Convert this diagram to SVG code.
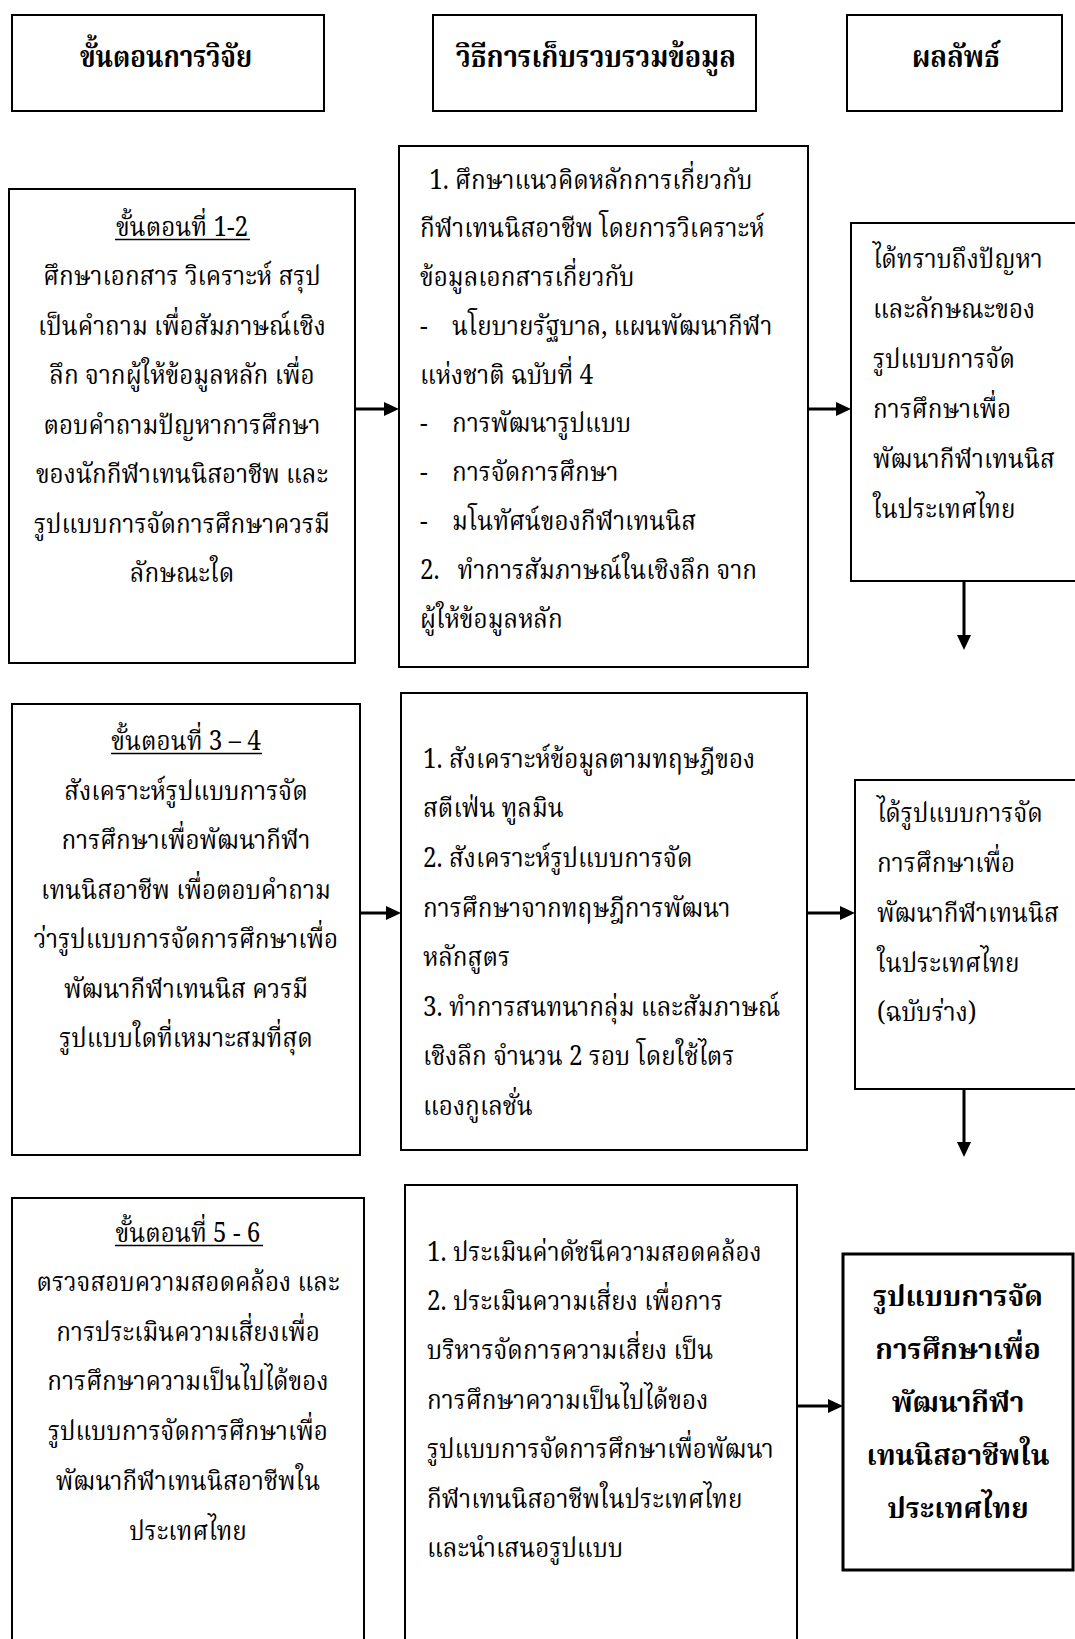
<svg xmlns="http://www.w3.org/2000/svg" width="1075" height="1639" viewBox="0 0 1075 1639">
<defs>
<style>
.box{fill:#fff;stroke:#000;stroke-width:2}
.bold-box{fill:#fff;stroke:#000;stroke-width:3}
.t{font-family:"Noto Serif Thai","Noto Sans Thai","Liberation Serif","Noto Sans",serif;font-size:26.5px;fill:#000}
.c{text-anchor:middle}
.h{font-family:"Noto Serif Thai","Noto Sans Thai","Liberation Serif",serif;font-size:31px;font-weight:bold;fill:#000;text-anchor:middle}
.r{font-family:"Noto Serif Thai","Noto Sans Thai","Liberation Serif",serif;font-size:28px;font-weight:bold;fill:#000;text-anchor:middle}
.u{stroke:#000;stroke-width:1.3}
.conn{stroke:#000;stroke-width:3;fill:none;marker-end:url(#ah)}
</style>
<marker id="ah" markerUnits="userSpaceOnUse" markerWidth="16" markerHeight="14" refX="5" refY="7" orient="auto">
<path d="M0,0 L15,7 L0,14 z" fill="#000"/>
</marker>
</defs>
<rect width="1075" height="1639" fill="#fff"/>

<g id="header-steps">
<rect class="box" x="12" y="15" width="312" height="96"/>
<text class="h" x="166" y="67" textLength="172" lengthAdjust="spacingAndGlyphs">ขั้นตอนการวิจัย</text>
</g>
<g id="header-methods">
<rect class="box" x="433" y="15" width="323" height="96"/>
<text class="h" x="596" y="67" textLength="280" lengthAdjust="spacingAndGlyphs">วิธีการเก็บรวบรวมข้อมูล</text>
</g>
<g id="header-results">
<rect class="box" x="847" y="15" width="215" height="96"/>
<text class="h" x="956" y="67" textLength="88" lengthAdjust="spacingAndGlyphs">ผลลัพธ์</text>
</g>

<g id="step-1-2">
<rect class="box" x="9" y="189" width="346" height="474"/>
<line class="u" x1="115" y1="239.5" x2="250" y2="239.5"/>
<g transform="translate(182,0) scale(0.917,1) translate(-182,0)">
<text class="t c" x="182" y="236">ขั้นตอนที่ 1-2</text>
<text class="t c" x="182" y="285.5">ศึกษาเอกสาร วิเคราะห์ สรุป</text>
<text class="t c" x="182" y="335">เป็นคำถาม เพื่อสัมภาษณ์เชิง</text>
<text class="t c" x="182" y="384.5">ลึก จากผู้ให้ข้อมูลหลัก เพื่อ</text>
<text class="t c" x="182" y="434">ตอบคำถามปัญหาการศึกษา</text>
<text class="t c" x="182" y="483.5">ของนักกีฬาเทนนิสอาชีพ และ</text>
<text class="t c" x="182" y="533">รูปแบบการจัดการศึกษาควรมี</text>
<text class="t c" x="182" y="582.5">ลักษณะใด</text>
</g>
</g>

<g id="method-1">
<rect class="box" x="399" y="146" width="409" height="521"/>
<g transform="translate(420,0) scale(0.917,1) translate(-420,0)">
<text class="t" x="430" y="189">1.  ศึกษาแนวคิดหลักการเกี่ยวกับ</text>
<text class="t" x="420" y="237">กีฬาเทนนิสอาชีพ โดยการวิเคราะห์</text>
<text class="t" x="420" y="286">ข้อมูลเอกสารเกี่ยวกับ</text>
<text class="t" x="420" y="335">-</text><text class="t" x="455" y="335">นโยบายรัฐบาล, แผนพัฒนากีฬา</text>
<text class="t" x="420" y="384">แห่งชาติ ฉบับที่ 4</text>
<text class="t" x="420" y="432">-</text><text class="t" x="455" y="432">การพัฒนารูปแบบ</text>
<text class="t" x="420" y="481">-</text><text class="t" x="455" y="481">การจัดการศึกษา</text>
<text class="t" x="420" y="530">-</text><text class="t" x="455" y="530">มโนทัศน์ของกีฬาเทนนิส</text>
<text class="t" x="420" y="579">2.</text><text class="t" x="461" y="579">ทำการสัมภาษณ์ในเชิงลึก จาก</text>
<text class="t" x="420" y="628">ผู้ให้ข้อมูลหลัก</text>
</g>
</g>

<g id="result-1">
<rect class="box" x="851" y="223" width="230" height="358"/>
<g transform="translate(873,0) scale(0.917,1) translate(-873,0)">
<text class="t" x="873" y="268">ได้ทราบถึงปัญหา</text>
<text class="t" x="873" y="318">และลักษณะของ</text>
<text class="t" x="873" y="368">รูปแบบการจัด</text>
<text class="t" x="873" y="418">การศึกษาเพื่อ</text>
<text class="t" x="873" y="468">พัฒนากีฬาเทนนิส</text>
<text class="t" x="873" y="518">ในประเทศไทย</text>
</g>
</g>

<g id="step-3-4">
<rect class="box" x="12" y="704" width="348" height="451"/>
<line class="u" x1="111" y1="753.5" x2="262" y2="753.5"/>
<g transform="translate(186,0) scale(0.917,1) translate(-186,0)">
<text class="t c" x="186" y="750">ขั้นตอนที่ 3 – 4</text>
<text class="t c" x="186" y="800">สังเคราะห์รูปแบบการจัด</text>
<text class="t c" x="186" y="849">การศึกษาเพื่อพัฒนากีฬา</text>
<text class="t c" x="186" y="899">เทนนิสอาชีพ เพื่อตอบคำถาม</text>
<text class="t c" x="186" y="948">ว่ารูปแบบการจัดการศึกษาเพื่อ</text>
<text class="t c" x="186" y="998">พัฒนากีฬาเทนนิส ควรมี</text>
<text class="t c" x="186" y="1047">รูปแบบใดที่เหมาะสมที่สุด</text>
</g>
</g>

<g id="method-2">
<rect class="box" x="401" y="693" width="406" height="457"/>
<g transform="translate(423,0) scale(0.917,1) translate(-423,0)">
<text class="t" x="423" y="768">1. สังเคราะห์ข้อมูลตามทฤษฎีของ</text>
<text class="t" x="423" y="817">สตีเฟ่น ทูลมิน</text>
<text class="t" x="423" y="867">2. สังเคราะห์รูปแบบการจัด</text>
<text class="t" x="423" y="917">การศึกษาจากทฤษฎีการพัฒนา</text>
<text class="t" x="423" y="966">หลักสูตร</text>
<text class="t" x="423" y="1016">3. ทำการสนทนากลุ่ม และสัมภาษณ์</text>
<text class="t" x="423" y="1065">เชิงลึก จำนวน 2 รอบ โดยใช้ไตร</text>
<text class="t" x="423" y="1115">แองกูเลชั่น</text>
</g>
</g>

<g id="result-2">
<rect class="box" x="855" y="780" width="226" height="309"/>
<g transform="translate(877,0) scale(0.917,1) translate(-877,0)">
<text class="t" x="877" y="822">ได้รูปแบบการจัด</text>
<text class="t" x="877" y="872">การศึกษาเพื่อ</text>
<text class="t" x="877" y="922">พัฒนากีฬาเทนนิส</text>
<text class="t" x="877" y="972">ในประเทศไทย</text>
<text class="t" x="877" y="1021">(ฉบับร่าง)</text>
</g>
</g>

<g id="step-5-6">
<rect class="box" x="12" y="1198" width="352" height="460"/>
<line class="u" x1="115" y1="1245.5" x2="263" y2="1245.5"/>
<g transform="translate(188,0) scale(0.917,1) translate(-188,0)">
<text class="t c" x="188" y="1242">ขั้นตอนที่ 5 - 6</text>
<text class="t c" x="188" y="1291">ตรวจสอบความสอดคล้อง และ</text>
<text class="t c" x="188" y="1341">การประเมินความเสี่ยงเพื่อ</text>
<text class="t c" x="188" y="1390">การศึกษาความเป็นไปได้ของ</text>
<text class="t c" x="188" y="1440">รูปแบบการจัดการศึกษาเพื่อ</text>
<text class="t c" x="188" y="1490">พัฒนากีฬาเทนนิสอาชีพใน</text>
<text class="t c" x="188" y="1540">ประเทศไทย</text>
</g>
</g>

<g id="method-3">
<rect class="box" x="405" y="1185" width="392" height="470"/>
<g transform="translate(427,0) scale(0.917,1) translate(-427,0)">
<text class="t" x="427" y="1261">1. ประเมินค่าดัชนีความสอดคล้อง</text>
<text class="t" x="427" y="1310">2. ประเมินความเสี่ยง เพื่อการ</text>
<text class="t" x="427" y="1359">บริหารจัดการความเสี่ยง เป็น</text>
<text class="t" x="427" y="1409">การศึกษาความเป็นไปได้ของ</text>
<text class="t" x="427" y="1458">รูปแบบการจัดการศึกษาเพื่อพัฒนา</text>
<text class="t" x="427" y="1508">กีฬาเทนนิสอาชีพในประเทศไทย</text>
<text class="t" x="427" y="1557">และนำเสนอรูปแบบ</text>
</g>
</g>

<g id="final-result">
<rect class="bold-box" x="843" y="1254" width="230" height="316"/>
<text class="r" x="958" y="1306">รูปแบบการจัด</text>
<text class="r" x="958" y="1359">การศึกษาเพื่อ</text>
<text class="r" x="958" y="1412">พัฒนากีฬา</text>
<text class="r" x="958" y="1465">เทนนิสอาชีพใน</text>
<text class="r" x="958" y="1518">ประเทศไทย</text>
</g>

<g id="connectors">
<line class="conn" x1="356" y1="409" x2="389" y2="409"/>
<line class="conn" x1="809" y1="409" x2="841" y2="409"/>
<line class="conn" x1="964" y1="582" x2="964" y2="640"/>
<line class="conn" x1="361" y1="913" x2="391" y2="913"/>
<line class="conn" x1="808" y1="913" x2="845" y2="913"/>
<line class="conn" x1="964" y1="1090" x2="964" y2="1147"/>
<line class="conn" x1="798" y1="1406" x2="833" y2="1406"/>
</g>
</svg>
